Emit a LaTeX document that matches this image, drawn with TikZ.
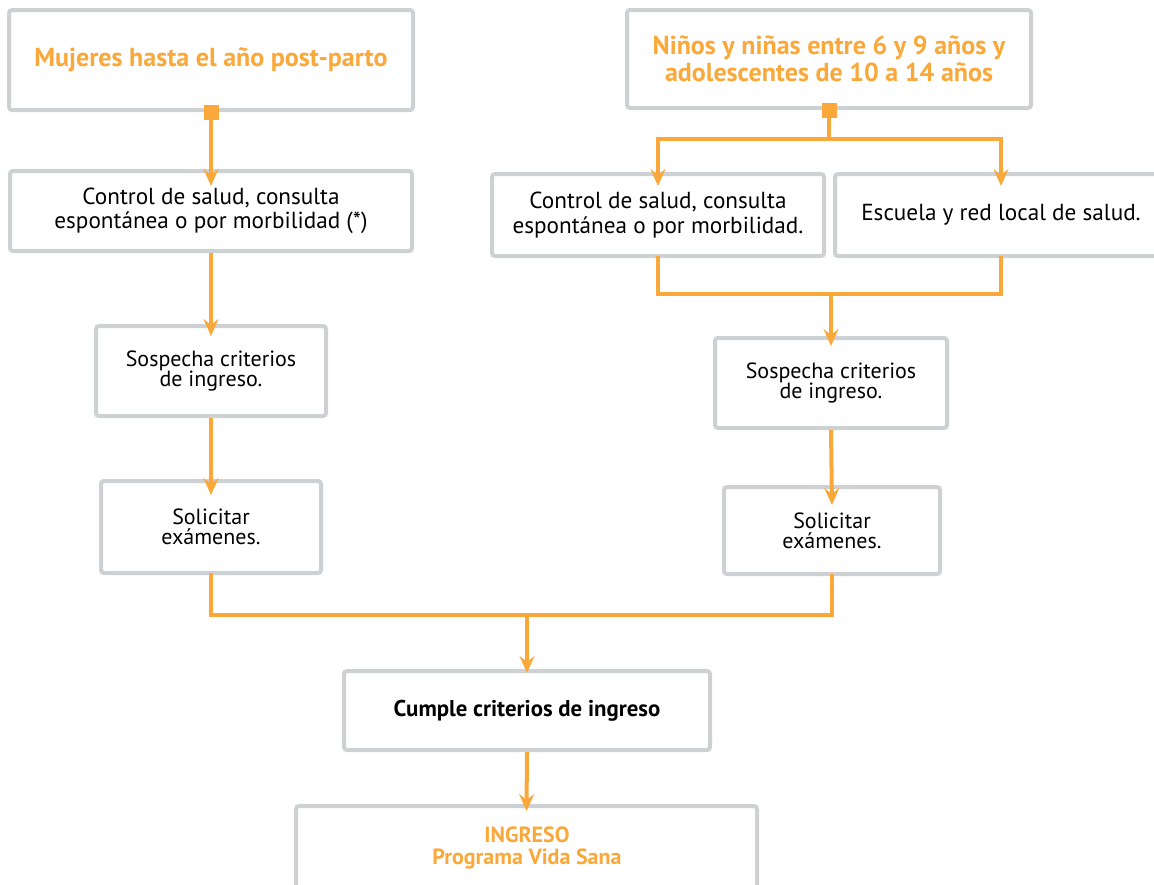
\documentclass[tikz,border=0pt]{standalone}
\usepackage{fontspec}
\setmainfont{PT Sans}
\usetikzlibrary{arrows.meta}

\definecolor{boxgray}{RGB}{205,209,211}
\definecolor{flowor}{RGB}{250,168,58}

\tikzset{
  box/.style={draw=boxgray, line width=4pt, rounded corners=3pt, fill=white,
              inner sep=0pt, align=center},
  headtext/.style={font=\fontsize{26}{27}\selectfont\bfseries, text=flowor},
  bodytext/.style={font=\fontsize{23.2}{24.5}\selectfont, text=black},
  smalltext/.style={font=\fontsize{22}{20}\selectfont, text=black},
  flow/.style={draw=flowor, line width=4pt},
  tip/.style={-{Stealth[length=17pt,width=15pt,inset=6pt]}},
  marker/.style={fill=flowor, minimum size=15pt, inner sep=0pt},
}

% box given by its corners (x1,y1,x2,y2) in pixel-like units
\newcommand{\boxnode}[7]{%
  \node[box,#6, minimum width=#4pt-#2pt, minimum height=#5pt-#3pt]
    (#1) at ({(#2+#4)/2},{(#3+#5)/2}) {#7};}

\begin{document}
\begin{tikzpicture}[x=1pt,y=-1pt]
\clip (0,0) rectangle (1154,884);
\fill[white] (0,0) rectangle (1154,884);

% boxes
\boxnode{A}{9}{10}{413}{110}{headtext}{Mujeres hasta el año post-parto}
\boxnode{B}{627}{10}{1031}{108}{headtext}{Niños y niñas entre 6 y 9 años y\\adolescentes de 10 a 14 años}
\boxnode{C}{10}{171}{412}{251}{bodytext}{Control de salud, consulta\\espontánea o por morbilidad (*)}
\boxnode{D}{492}{174}{824}{256}{bodytext}{Control de salud, consulta\\espontánea o por morbilidad.}
\boxnode{E}{835}{174}{1167}{256}{bodytext}{Escuela y red local de salud.}
\boxnode{F}{96}{326}{326}{416}{smalltext}{Sospecha criterios\\de ingreso.}
\boxnode{G}{715}{338}{947}{428}{smalltext}{Sospecha criterios\\de ingreso.}
\boxnode{H}{101}{481}{321}{573}{smalltext}{Solicitar\\exámenes.}
\boxnode{I}{724}{487}{940}{574}{smalltext}{Solicitar\\exámenes.}
\boxnode{J}{344}{671}{710}{750}{font=\fontsize{22.8}{24}\selectfont\bfseries}{Cumple criterios de ingreso}
\boxnode{K}{296}{806}{757}{940}{}{}
\node[font=\fontsize{22}{21.5}\selectfont\bfseries, text=flowor, align=center]
  (Ktxt) at (527,848) {INGRESO\\Programa Vida Sana};

% left column
\draw[flow,tip] (A.south) -- ([yshift=-17pt]C.north);
\draw[flow,tip] (C.south) -- ([yshift=-12pt]F.north);
\draw[flow,tip] (F.south) -- ([yshift=-16pt]H.north);

% right column: split
\path (B.south) ++(0,29) coordinate (split);
\draw[flow] (B.south) -- (split);
\draw[flow,tip] (split) -| ([yshift=-14pt]D.north);
\draw[flow,tip] (split) -| ([yshift=-14pt]E.north);

% right column: join
\path (D.south) ++(0,36) coordinate (joinR);
\draw[flow] ([yshift=2pt]D.south) -- (joinR) -| ([yshift=2pt]E.south);
\draw[flow,tip] (joinR -| G.north) -- ([yshift=-10pt]G.north);
\draw[flow,tip] (G.south) -- ([yshift=-20pt]I.north);

% bottom join
\path (H.south) ++(0,40) coordinate (joinB);
\draw[flow] ([yshift=2pt]H.south) -- (joinB) -| ([yshift=2pt]I.south);
\draw[flow,tip] (joinB -| J.north) -- ([yshift=-4pt]J.north);
\draw[flow,tip] (J.south) -- ([yshift=-7pt]K.north);

% start markers
\node[marker] (mA) at (A.south) {};
\node[marker] (mB) at (B.south) {};
\end{tikzpicture}
\end{document}
